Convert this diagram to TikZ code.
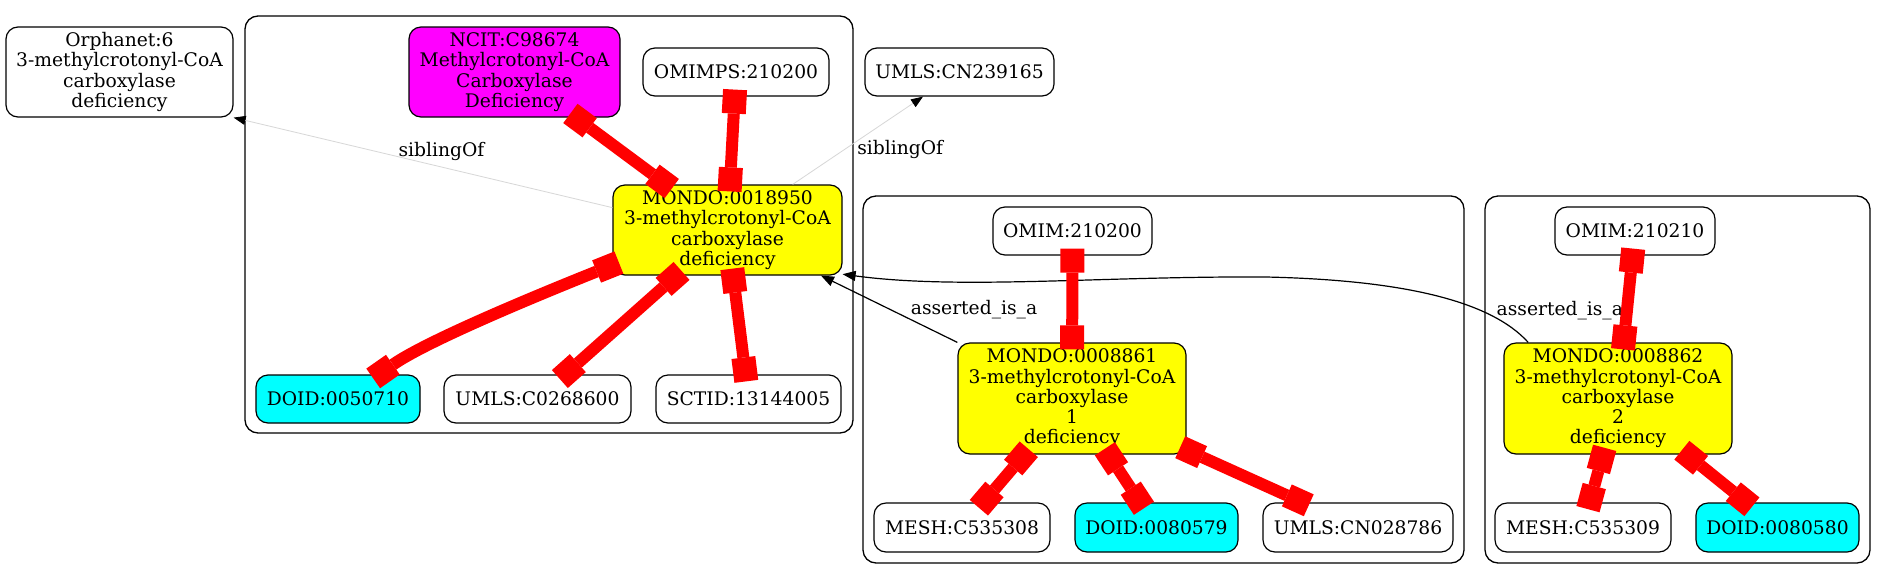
\documentclass[tikz,border=0pt]{standalone}
\usepackage{fontspec}
\setmainfont{DejaVu Serif}
\usetikzlibrary{arrows.meta}
\newcommand{\gvfont}{\fontsize{18.7pt}{20.3pt}\selectfont}
\definecolor{gvyellow}{RGB}{255,255,0}
\definecolor{gvmagenta}{RGB}{255,0,255}
\definecolor{gvcyan}{RGB}{0,255,255}
\definecolor{gvred}{RGB}{255,0,0}
\definecolor{sibgray}{RGB}{215,215,215}
\begin{document}
\begin{tikzpicture}[x=1pt,y=-1pt,
  nd/.style={draw=black, line width=1.2pt, rounded corners=12pt, inner sep=0pt, align=center, font=\gvfont, fill=white},
  yel/.style={nd, fill=gvyellow},
  mag/.style={nd, fill=gvmagenta},
  cya/.style={nd, fill=gvcyan},
  cluster/.style={draw=black, line width=1.3pt, rounded corners=13pt},
  redge/.style={draw=gvred, line width=12pt, {Rectangle[length=24pt,width=24pt,line width=0pt,color=gvred]}-{Rectangle[length=24pt,width=24pt,line width=0pt,color=gvred]}, shorten <=-7pt, shorten >=-7pt},
  sib/.style={draw=sibgray, line width=0.8pt, -{Triangle[length=12pt,width=9pt,color=black]}},
  isa/.style={draw=black, line width=1.2pt, -{Triangle[length=13pt,width=10pt]}},
  lab/.style={font=\gvfont, inner sep=0pt}
]
\useasboundingbox (0,0) rectangle (1887,579);
\fill[white] (0,0) rectangle (1887,579);

% clusters
\draw[cluster] (245,16) rectangle (853,433);
\draw[cluster] (863,196) rectangle (1464,563);
\draw[cluster] (1485,196) rectangle (1870,563);

% nodes
\node[nd, minimum width=227pt, minimum height=90pt] (orph) at (119.5,72) {Orphanet:6\\3-methylcrotonyl-CoA\\carboxylase\\deficiency};
\node[mag, minimum width=211pt, minimum height=90pt] (ncit) at (514.5,72) {NCIT:C98674\\Methylcrotonyl-CoA\\Carboxylase\\Deficiency};
\node[nd, minimum width=186pt, minimum height=48pt] (omimps) at (736,72) {OMIMPS:210200};
\node[nd, minimum width=189pt, minimum height=48pt] (u1) at (959.5,72) {UMLS:CN239165};
\node[yel, minimum width=229pt, minimum height=90pt] (m0) at (727.5,230) {MONDO:0018950\\3-methylcrotonyl-CoA\\carboxylase\\deficiency};
\node[cya, minimum width=164pt, minimum height=48pt] (doid1) at (338,399) {DOID:0050710};
\node[nd, minimum width=187pt, minimum height=48pt] (umls1) at (537.5,399) {UMLS:C0268600};
\node[nd, minimum width=185pt, minimum height=48pt] (sctid) at (748.5,399) {SCTID:13144005};

\node[nd, minimum width=159pt, minimum height=48pt] (omim1) at (1072.5,231) {OMIM:210200};
\node[yel, minimum width=228pt, minimum height=111pt] (m1) at (1072,398.5) {MONDO:0008861\\3-methylcrotonyl-CoA\\carboxylase\\1\\deficiency};
\node[nd, minimum width=176pt, minimum height=49pt] (mesh1) at (962,527.5) {MESH:C535308};
\node[cya, minimum width=163pt, minimum height=49pt] (doid2) at (1156.5,527.5) {DOID:0080579};
\node[nd, minimum width=190pt, minimum height=49pt] (umls2) at (1358,527.5) {UMLS:CN028786};

\node[nd, minimum width=160pt, minimum height=48pt] (omim2) at (1635,231) {OMIM:210210};
\node[yel, minimum width=228pt, minimum height=111pt] (m2) at (1618,398.5) {MONDO:0008862\\3-methylcrotonyl-CoA\\carboxylase\\2\\deficiency};
\node[nd, minimum width=176pt, minimum height=49pt] (mesh2) at (1583,527.5) {MESH:C535309};
\node[cya, minimum width=163pt, minimum height=49pt] (doid3) at (1777.5,527.5) {DOID:0080580};

% siblingOf edges
\draw[sib] (m0.169) -- node[lab, pos=0.462, yshift=15pt, xshift=4pt] {siblingOf} (orph.south east);
\draw[sib] (m0.35) -- node[lab, pos=0.393, anchor=west, xshift=13pt] {siblingOf} (u1.214);

% asserted_is_a edges
\draw[isa] (m1.north west) -- node[lab, pos=0.485, anchor=west, xshift=19pt] {asserted\_is\_a} (m0.-26);
\draw[isa] (m2.148) .. controls (1490,300) and (1400,280) .. node[lab, pos=0.3, anchor=west, xshift=16pt] {asserted\_is\_a} (1266,277) .. controls (1100,276) and (960,290) .. (m0.-21);

% red edges
\draw[redge] (ncit) -- (m0);
\draw[redge] (omimps) -- (m0);
\draw[redge] (m0.197) .. controls +(-60,24) and +(50,-35) .. (doid1.31);
\draw[redge] (m0) -- (umls1);
\draw[redge] (m0) -- (sctid);
\draw[redge] (omim1) -- (m1);
\draw[redge] (m1) -- (mesh1);
\draw[redge] (m1) -- (doid2);
\draw[redge] (m1) -- (umls2);
\draw[redge] (omim2) -- (m2);
\draw[redge] (m2) -- (mesh2);
\draw[redge] (m2) -- (doid3);
\end{tikzpicture}
\end{document}
